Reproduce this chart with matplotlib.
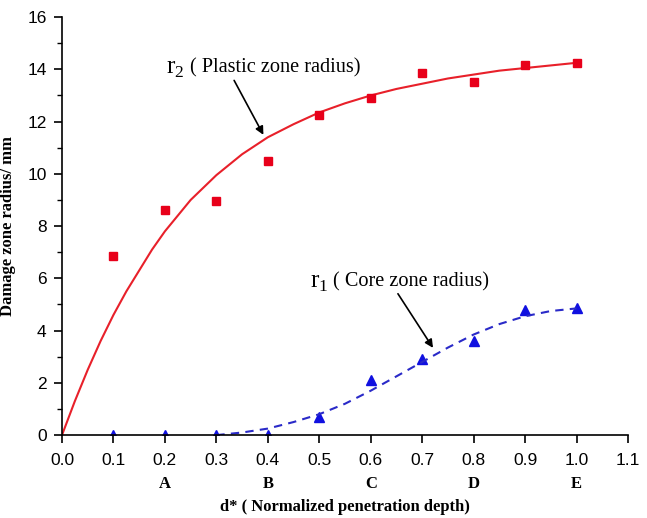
import matplotlib
matplotlib.use("Agg")
import matplotlib.pyplot as plt
from matplotlib.ticker import MultipleLocator

# Data
depth = [0.1, 0.2, 0.3, 0.4, 0.5, 0.6, 0.7, 0.8, 0.9, 1.0]
r2_pts = [6.85, 8.6, 8.95, 10.5, 12.25, 12.9, 13.85, 13.5, 14.15, 14.25]
r1_pts = [0.0, 0.0, 0.0, 0.0, 0.7, 2.1, 2.9, 3.6, 4.8, 4.85]

r2_fit_x = [0.0, 0.025, 0.05, 0.075, 0.1, 0.125, 0.15, 0.175, 0.2, 0.25, 0.3, 0.35, 0.4, 0.45, 0.5,
            0.55, 0.6, 0.65, 0.7, 0.75, 0.8, 0.85, 0.9, 0.95, 1.0]
r2_fit_y = [0.0, 1.3, 2.5, 3.6, 4.6, 5.5, 6.3, 7.1, 7.8, 9.0, 9.95, 10.75, 11.4, 11.9, 12.35,
            12.7, 13.0, 13.25, 13.45, 13.65, 13.8, 13.95, 14.05, 14.15, 14.25]
r1_fit_x = [0.3, 0.35, 0.4, 0.45, 0.5, 0.55, 0.6, 0.65, 0.7, 0.75, 0.8, 0.85, 0.9, 0.95, 1.0]
r1_fit_y = [0.0, 0.1, 0.25, 0.5, 0.8, 1.2, 1.7, 2.25, 2.8, 3.35, 3.85, 4.25, 4.55, 4.75, 4.85]

xticks = [0.0, 0.1, 0.2, 0.3, 0.4, 0.5, 0.6, 0.7, 0.8, 0.9, 1.0, 1.1]
point_letters = ["A", "B", "C", "D", "E"]
letter_pos = [0.2, 0.4, 0.6, 0.8, 1.0]

plt.rcParams['mathtext.fontset'] = 'custom'
plt.rcParams['mathtext.rm'] = 'Liberation Serif'

fig = plt.figure(figsize=(6.47, 5.18), dpi=100)
ax = fig.add_axes([0.0958, 0.160, 0.8748, 0.807])

ax.plot(r2_fit_x, r2_fit_y, color='#e8202a', lw=1.5, zorder=2)
ax.plot(depth, r2_pts, 's', color='#e8001a', ms=6, zorder=3)
ax.plot(r1_fit_x, r1_fit_y, '--', color='#2a2ac8', lw=1.5, dashes=(4, 3), zorder=2)
ax.plot(depth, r1_pts, '^', color='#1010e0', ms=6.5, zorder=1, clip_on=True)

ax.set_xlim(0, 1.1)
ax.set_ylim(0, 16)
ax.set_xticks(xticks)
ax.set_xticklabels([f"{v:.1f}" for v in xticks])
ax.yaxis.set_major_locator(MultipleLocator(2))
ax.yaxis.set_minor_locator(MultipleLocator(1))
for s in ['top', 'right']:
    ax.spines[s].set_visible(False)
for s in ['left', 'bottom']:
    ax.spines[s].set_linewidth(1.2)
ax.tick_params(axis='both', which='major', direction='out', length=6, width=1.2,
               labelsize=12.5, pad=5)
ax.tick_params(axis='x', which='major', pad=7)
ax.tick_params(axis='y', which='minor', direction='out', length=3.5, width=1.0)
for lab in ax.get_xticklabels() + ax.get_yticklabels():
    lab.set_fontfamily('Liberation Sans')

ax.set_ylabel('Damage zone radius/ mm', fontfamily='Liberation Serif', fontweight='bold',
              fontsize=12, labelpad=8)
ax.set_xlabel('d* ( Normalized penetration depth)', fontfamily='Liberation Serif',
              fontweight='bold', fontsize=12, labelpad=22)

for lt, lp in zip(point_letters, letter_pos):
    ax.text(lp, -0.098, lt, transform=ax.get_xaxis_transform(), ha='center', va='top',
            fontfamily='Liberation Serif', fontweight='bold', fontsize=12)

ax.text(0.203, 14.05, r'$\mathrm{r}_{2}$', fontsize=18, va='center', ha='left')
ax.text(0.249, 14.05, '( Plastic zone radius)', fontfamily='Liberation Serif', fontsize=14.6,
        va='center', ha='left')
ax.text(0.482, 5.86, r'$\mathrm{r}_{1}$', fontsize=18, va='center', ha='left')
ax.text(0.526, 5.86, '( Core zone radius)', fontfamily='Liberation Serif', fontsize=14.6,
        va='center', ha='left')

ax.annotate('', xy=(0.394, 11.4), xytext=(0.332, 13.67),
            arrowprops=dict(arrowstyle='-|>', color='black', lw=1.2, mutation_scale=12))
ax.annotate('', xy=(0.724, 3.25), xytext=(0.650, 5.5),
            arrowprops=dict(arrowstyle='-|>', color='black', lw=1.2, mutation_scale=12))

fig.savefig('out.png', dpi=100)
